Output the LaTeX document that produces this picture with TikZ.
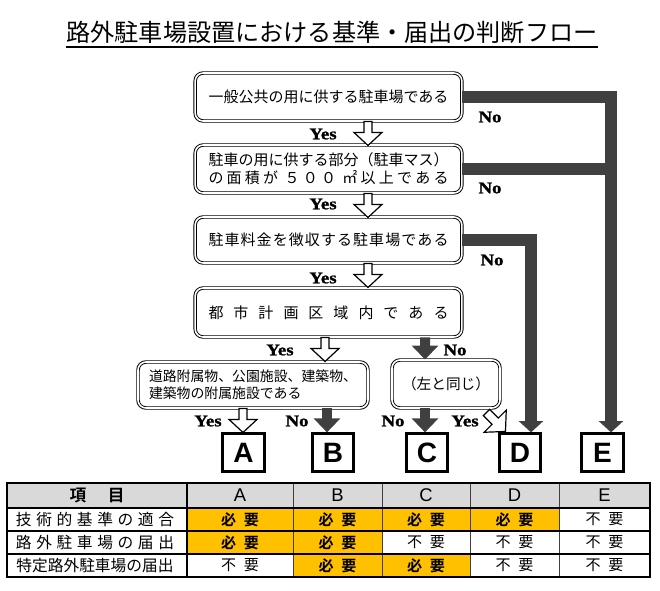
\documentclass[tikz,border=0pt]{standalone}
\usepackage{fontspec}
\setmainfont{Noto Sans CJK JP}[BoldFont={Noto Sans CJK JP Bold}]
\newfontfamily\ynfont{Liberation Serif}[FakeStretch=1.15,FakeBold=1.2]
\newfontfamily\lsans{Liberation Sans}
\usetikzlibrary{arrows.meta,calc}
\definecolor{barcol}{HTML}{404040}
\definecolor{orng}{HTML}{FFC000}
\definecolor{hdrcol}{HTML}{D9D9D9}
\newcommand{\hyo}{{\bfseries 必\hspace{0.5em}要}}
\newcommand{\fyo}{不\hspace{0.5em}要}
\tikzset{
 qbox/.style={draw, double, double distance=1.2pt, line width=0.7pt, rounded corners=6pt, fill=white, inner sep=0pt, align=center},
 lbox/.style={draw, line width=2.2pt, minimum width=31pt, minimum height=28pt, inner sep=0pt, font=\lsans\bfseries\fontsize{21}{21}\selectfont},
 yn/.style={font=\ynfont\bfseries\fontsize{12.3}{13}\selectfont, inner sep=0pt},
 barline/.style={draw=barcol, line width=9pt, line join=miter},
 bararrow/.style={barline, -{Triangle[width=18pt,length=8.5pt]}},
 darkarr/.style={draw=barcol, line width=7.5pt, -{Triangle[width=19.5pt,length=10.5pt]}},
 harrow/.pic={\draw[line width=0.9pt, fill=white, line join=miter] (-4,0) -- (-4,11) -- (-14,11) -- (0,24) -- (14,11) -- (4,11) -- (4,0) -- cycle;},
 cell/.style={inner sep=0pt, font=\fontsize{11.3}{12}\selectfont},
 rowlab/.style={inner sep=0pt, font=\fontsize{11.8}{13}\selectfont},
 colhead/.style={inner sep=0pt, font=\lsans\fontsize{13.8}{14}\selectfont},
}
\begin{document}
\begin{tikzpicture}[x=0.75pt,y=-0.75pt]
\useasboundingbox (0,0) rectangle (660,590);
% title
\node[font=\fontsize{18.1}{20}\selectfont, inner sep=0pt] (title) at (332,32) {路外駐車場設置における基準・届出の判断フロー};
\draw[line width=1.5pt] ([yshift=-2.5pt]title.south west) -- ([yshift=-2.5pt]title.south east);

% question boxes
\node[qbox, minimum width=200pt, minimum height=36pt, font=\fontsize{11.25}{13.5}\selectfont] (q1) at (328.5,97) {一般公共の用に供する駐車場である};
\node[qbox, minimum width=200pt, minimum height=36pt, font=\fontsize{11.25}{13.5}\selectfont] (q2) at (328.5,169) {駐車の用に供する部分（駐車マス）\\\makebox[180pt][s]{の\hfill 面\hfill 積\hfill が\hfill\hfill ５\hfill ０\hfill ０\hfill\hfill ㎡\hfill 以\hfill 上\hfill で\hfill あ\hfill る}};
\node[qbox, minimum width=200pt, minimum height=34.5pt, font=\fontsize{11.25}{13.5}\selectfont] (q3) at (328.5,240) {\makebox[180pt][s]{駐\hfill 車\hfill 料\hfill 金\hfill を\hfill 徴\hfill 収\hfill す\hfill る\hfill 駐\hfill 車\hfill 場\hfill で\hfill あ\hfill る}};
\node[qbox, minimum width=200pt, minimum height=36.75pt, font=\fontsize{11.25}{13.5}\selectfont] (q4) at (328.5,312.5) {\makebox[180pt][s]{都\hfill 市\hfill 計\hfill 画\hfill 区\hfill 域\hfill 内\hfill で\hfill あ\hfill る}};
\node[qbox, minimum width=172.5pt, minimum height=34.5pt, align=left, font=\fontsize{10.4}{12.75}\selectfont] (q5) at (253,385) {道路附属物、公園施設、建築物、\\建築物の附属施設である};
\node[qbox, minimum width=81pt, minimum height=36pt, font=\fontsize{11}{12}\selectfont] (q6) at (446,384) {（左と同じ）};

% result boxes
\node[lbox] (A) at (243.5,452.5) {A};
\node[lbox] (B) at (333,452.5) {B};
\node[lbox] (C) at (427,452.5) {C};
\node[lbox] (D) at (520,452.5) {D};
\node[lbox] (E) at (602.5,452.5) {E};

% No bars to D and E
\coordinate (Ebar) at (611,0);
\coordinate (Dbar) at (531,0);
\draw[barline] (q2.east) -- (q2.east -| Ebar);
\draw[bararrow] (q1.east) -- (q1.east -| Ebar) -- (E.north -| Ebar);
\draw[bararrow] (q3.east) -- (q3.east -| Dbar) -- (D.north -| Dbar);

% dark short arrows
\draw[darkarr] ([xshift=72.4pt]q4.south) -- ([xshift=-15.75pt]q6.north);
\draw[darkarr] ([xshift=55.5pt]q5.south) -- ([xshift=-4.5pt]B.north);
\draw[darkarr] ([xshift=-15.75pt]q6.south) -- ([xshift=-1.5pt]C.north);

% hollow arrows
\pic at ([xshift=29.6pt]q1.south) {harrow};
\pic at ([xshift=29.6pt]q2.south) {harrow};
\pic at ([xshift=29.6pt]q3.south) {harrow};
\pic at ([xshift=-2.6pt]q4.south) {harrow};
\pic at ([xshift=-7.5pt]q5.south) {harrow};
\pic[rotate=45, scale=1.12] at ([xshift=-10.5pt,yshift=-3pt]q6.south east) {harrow};

% labels
\node[yn] (no1) at (490,117) {No};
\node[yn] (no2) at (490,188) {No};
\node[yn] (no3) at (492,260) {No};
\node[yn] (yes1) at (323,134) {Yes};
\node[yn] (yes2) at (323,204) {Yes};
\node[yn] (yes3) at (323,278) {Yes};
\node[yn] (yes4) at (280,350) {Yes};
\node[yn] (no4) at (455,350) {No};
\node[yn] (yes5) at (208,421) {Yes};
\node[yn] (no5) at (297,421) {No};
\node[yn] (no6) at (393,421) {No};
\node[yn] (yes6) at (465,421) {Yes};

% table
\fill[hdrcol] (7,483) rectangle (650,508);
\fill[orng] (187,508) rectangle (559,531);
\fill[orng] (187,531) rectangle (382,554);
\fill[orng] (293,554) rectangle (470,577);
\foreach \xx in {293,382,470,559} \draw[line width=0.7pt, black!75] (\xx,483) -- (\xx,577);
\draw[line width=1.2pt] (187,483) -- (187,577);
\foreach \yy in {508,531,554} \draw[line width=1pt] (7,\yy) -- (650,\yy);
\draw[line width=1.6pt] (7,483) rectangle (650,577);

\node[inner sep=0pt, font=\bfseries\fontsize{12.5}{13}\selectfont] (h0) at (97,495.5) {項\hspace{1.3em}目};
\node[colhead] (hA) at (240,495.5) {A};
\node[colhead] (hB) at (337.5,495.5) {B};
\node[colhead] (hC) at (426,495.5) {C};
\node[colhead] (hD) at (514.5,495.5) {D};
\node[colhead] (hE) at (604.5,495.5) {E};

\node[rowlab] (r1) at (95,519.5) {\makebox[118.5pt][s]{技\hfill 術\hfill 的\hfill 基\hfill 準\hfill の\hfill 適\hfill 合}};
\node[rowlab] (r2) at (95,542.5) {\makebox[118.5pt][s]{路\hfill 外\hfill 駐\hfill 車\hfill 場\hfill の\hfill 届\hfill 出}};
\node[rowlab] (r3) at (95,565.5) {特定路外駐車場の届出};

\node[cell] (a1) at (240,519.5) {\hyo};
\node[cell] (b1) at (337.5,519.5) {\hyo};
\node[cell] (c1) at (426,519.5) {\hyo};
\node[cell] (d1) at (514.5,519.5) {\hyo};
\node[cell] (e1) at (604.5,519.5) {\fyo};
\node[cell] (a2) at (240,542.5) {\hyo};
\node[cell] (b2) at (337.5,542.5) {\hyo};
\node[cell] (c2) at (426,542.5) {\fyo};
\node[cell] (d2) at (514.5,542.5) {\fyo};
\node[cell] (e2) at (604.5,542.5) {\fyo};
\node[cell] (a3) at (240,565.5) {\fyo};
\node[cell] (b3) at (337.5,565.5) {\hyo};
\node[cell] (c3) at (426,565.5) {\hyo};
\node[cell] (d3) at (514.5,565.5) {\fyo};
\node[cell] (e3) at (604.5,565.5) {\fyo};
\end{tikzpicture}
\end{document}
